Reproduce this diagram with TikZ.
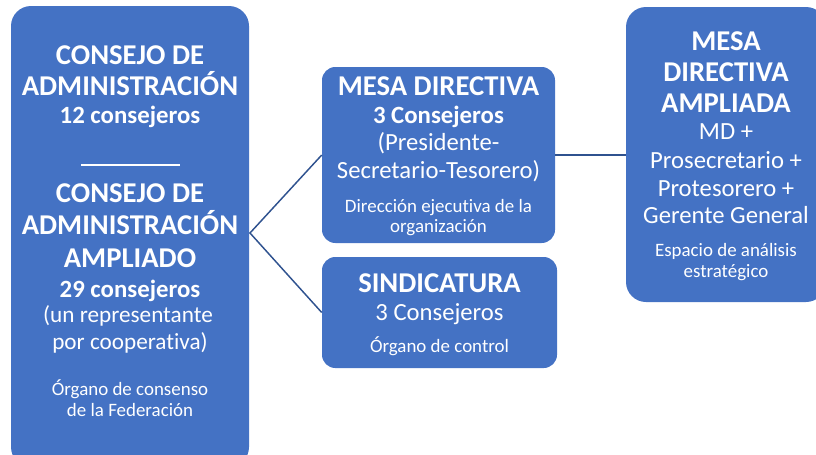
\documentclass[tikz,border=0pt]{standalone}
\usepackage{fontspec}
\setmainfont{Carlito}[Ligatures=NoCommon]
\definecolor{boxblue}{HTML}{4472C4}
\definecolor{lineblue}{HTML}{2F528F}
\newcommand\ftitle{\fontsize{21.5}{25}\selectfont\bfseries}
\newcommand\fsubb{\fontsize{18.6}{22}\selectfont\bfseries}
\newcommand\fregl{\fontsize{18.5}{22}\selectfont}
\newcommand\fregs{\fontsize{17.4}{21}\selectfont}
\newcommand\fsmall{\fontsize{14.2}{17}\selectfont}
\tikzset{
  box/.style={fill=boxblue, draw=none, rectangle, inner sep=0pt},
  t/.style={anchor=base, inner sep=0pt, text=white},
  conn/.style={draw=lineblue, line width=1.1pt}
}
\begin{document}
\begin{tikzpicture}[x=0.75pt,y=-0.75pt]
\useasboundingbox (0,0) rectangle (816,454);
\begin{scope}
\clip (0,0) rectangle (816,454);
\node[box, rounded corners=15pt, minimum width=178.5pt, minimum height=345.75pt] (L) at (130,236.5) {};
\node[box, rounded corners=10pt, minimum width=174.75pt, minimum height=132pt] (MT) at (438.5,155) {};
\node[box, rounded corners=10pt, minimum width=176.25pt, minimum height=83.25pt] (MB) at (439.5,312.5) {};
\node[box, rounded corners=15pt, minimum width=150pt, minimum height=221.25pt] (R) at (726,154.5) {};
\end{scope}
\coordinate (br) at (250,233);
\draw[conn] (MT.west) -- (br) -- (MB.west);
\draw[conn] (MT.east) -- (MT.east -| R.west);
% left box
\node[t, font=\ftitle] (l1) at (130,64) {CONSEJO DE};
\node[t, font=\ftitle] (l2) at (130,95) {ADMINISTRACIÓN};
\node[t, font=\fsubb] (l3) at (130,123) {12 consejeros};
\draw[white, line width=0.9pt] (81,165) -- (180,165);
\node[t, font=\ftitle] (l4) at (130,202) {CONSEJO DE};
\node[t, font=\ftitle] (l5) at (130,234) {ADMINISTRACIÓN};
\node[t, font=\ftitle] (l6) at (130,267) {AMPLIADO};
\node[t, font=\fsubb] (l7) at (130,297) {29 consejeros};
\node[t, font=\fregs] (l8) at (128,322) {(un representante};
\node[t, font=\fregs] (l9) at (130,349) {por cooperativa)};
\node[t, font=\fsmall] (l10) at (130,395) {Órgano de consenso};
\node[t, font=\fsmall] (l11) at (130,416) {de la Federación};
% middle top
\node[t, font=\ftitle] (m1) at (438.5,95) {MESA DIRECTIVA};
\node[t, font=\fsubb] (m2) at (438.5,123) {3 Consejeros};
\node[t, font=\fregl] (m3) at (438.5,150) {(Presidente-};
\node[t, font=\fregl] (m4) at (438.5,178) {Secretario-Tesorero)};
\node[t, font=\fsmall] (m5) at (438.5,212) {Dirección ejecutiva de la};
\node[t, font=\fsmall] (m6) at (438.5,232) {organización};
% middle bottom
\node[t, font=\ftitle] (s1) at (439.5,292) {SINDICATURA};
\node[t, font=\fregl] (s2) at (439.5,320) {3 Consejeros};
\node[t, font=\fsmall] (s3) at (439.5,352) {Órgano de control};
% right
\node[t, font=\ftitle] (r1) at (726,50) {MESA};
\node[t, font=\ftitle] (r2) at (726,81) {DIRECTIVA};
\node[t, font=\ftitle] (r3) at (726,112) {AMPLIADA};
\node[t, font=\fregl] (r4) at (726,139) {MD +};
\node[t, font=\fregl] (r5) at (726,168) {Prosecretario +};
\node[t, font=\fregl] (r6) at (726,196) {Protesorero +};
\node[t, font=\fregl] (r7) at (726,223) {Gerente General};
\node[t, font=\fsmall] (r8) at (726,256) {Espacio de análisis};
\node[t, font=\fsmall] (r9) at (726,277) {estratégico};
\end{tikzpicture}
\end{document}
